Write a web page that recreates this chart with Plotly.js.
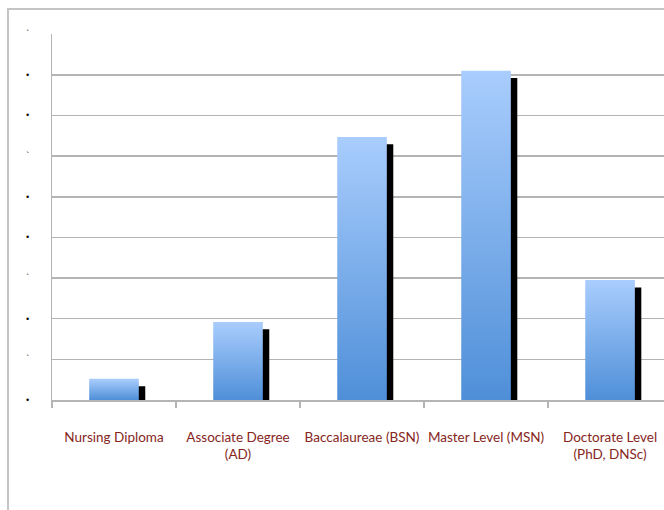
<!DOCTYPE html>
<html>
<head>
<meta charset="utf-8">
<script src="https://cdn.plot.ly/plotly-3.0.1.min.js"></script>
<style>
  html, body { margin: 0; padding: 0; background: #ffffff; overflow: hidden; }
  #wrap { position: relative; width: 664px; height: 510px; overflow: hidden; }
  #chart { width: 664px; height: 510px; }
  /* outer chart frame: only the left and top edges are inside the canvas */
  #frame {
    position: absolute; left: 7px; top: 8px; width: 800px; height: 700px;
    border-left: 2px solid #c4c4c4; border-top: 2px solid #c4c4c4;
    pointer-events: none;
  }
</style>
</head>
<body>
<div id="wrap">
  <div id="chart"></div>
  <div id="frame"></div>
</div>
<script>
// Nursing education levels
const categories = [
  "Nursing Diploma",
  "Associate Degree<br>(AD)",
  "Baccalaureae (BSN)",
  "Master Level (MSN)",
  "Doctorate Level<br>(PhD, DNSc)"
];
const values = [0.52, 1.92, 6.47, 8.1, 2.95];

// y-axis gridline positions and their (faint) labels
const yTickValues = [0, 1, 2, 3, 4, 5, 6, 7, 8, 9];
const yTickLabels = ["•", "`", "•", "`", "•", "•", "`", "•", "•", "`"];

// drop shadow geometry (in value / category units)
const shadowDrop = 0.18;
const shadowShift = 0.052;
const barWidth = 0.4;

const shadowValues = values.map(v => Math.max(v - shadowDrop, 0));

const shadowTrace = {
  type: "bar",
  x: categories,
  y: shadowValues,
  width: barWidth,
  offset: -barWidth / 2 + shadowShift,
  marker: { color: "#000000", line: { width: 0 } },
  hoverinfo: "skip",
  showlegend: false
};

const mainTrace = {
  type: "bar",
  x: categories,
  y: values,
  width: barWidth,
  offset: -barWidth / 2,
  marker: { color: "#7fb0ee", line: { width: 0 } },
  showlegend: false
};

const gridGray = "#b4b4b4";

const layout = {
  width: 664,
  height: 510,
  margin: { l: 52, r: 0, t: 34, b: 110, pad: 0 },
  paper_bgcolor: "#ffffff",
  plot_bgcolor: "#ffffff",
  barmode: "overlay",
  showlegend: false,
  xaxis: {
    type: "category",
    range: [-0.5, 4.435],
    tickson: "boundaries",
    ticks: "outside",
    ticklen: 6,
    tickwidth: 1.5,
    tickcolor: gridGray,
    tickangle: 0,
    showgrid: false,
    showline: true,
    linecolor: gridGray,
    linewidth: 1.5,
    ticklabelstandoff: 24,
    tickfont: { family: "Lato, 'Open Sans', sans-serif", size: 13.5, color: "#86261c" },
    fixedrange: true
  },
  yaxis: {
    range: [0, 9.005],
    tickmode: "array",
    tickvals: yTickValues,
    ticktext: yTickLabels,
    ticks: "",
    showgrid: true,
    gridcolor: gridGray,
    gridwidth: 1.5,
    zeroline: false,
    showline: true,
    linecolor: gridGray,
    linewidth: 1.5,
    ticklabelstandoff: 19,
    tickfont: { family: "DejaVu Sans, sans-serif", size: 8, color: "#000000" },
    fixedrange: true
  }
};

const gd = document.getElementById("chart");

// vertical blue gradient on the main bars
function applyGradient() {
  const svg = gd.querySelector("svg.main-svg");
  if (!svg) return;
  let defs = svg.querySelector("defs");
  if (!defs) {
    defs = document.createElementNS("http://www.w3.org/2000/svg", "defs");
    svg.insertBefore(defs, svg.firstChild);
  }
  if (!svg.querySelector("#barGrad")) {
    const ns = "http://www.w3.org/2000/svg";
    const grad = document.createElementNS(ns, "linearGradient");
    grad.setAttribute("id", "barGrad");
    grad.setAttribute("x1", "0"); grad.setAttribute("y1", "0");
    grad.setAttribute("x2", "0"); grad.setAttribute("y2", "1");
    const stops = [["0%", "#a9cdfd"], ["100%", "#4f8fd8"]];
    stops.forEach(([off, col]) => {
      const s = document.createElementNS(ns, "stop");
      s.setAttribute("offset", off);
      s.setAttribute("stop-color", col);
      grad.appendChild(s);
    });
    defs.appendChild(grad);
  }
  const traces = gd.querySelectorAll(".barlayer .trace");
  if (traces.length > 1) {
    traces[1].querySelectorAll(".point path").forEach(p => {
      p.style.fill = "url(#barGrad)";
    });
  }
}

Plotly.newPlot(gd, [shadowTrace, mainTrace], layout, { displayModeBar: false, staticPlot: true })
  .then(() => {
    applyGradient();
    gd.on("plotly_afterplot", applyGradient);
  });
</script>
</body>
</html>
